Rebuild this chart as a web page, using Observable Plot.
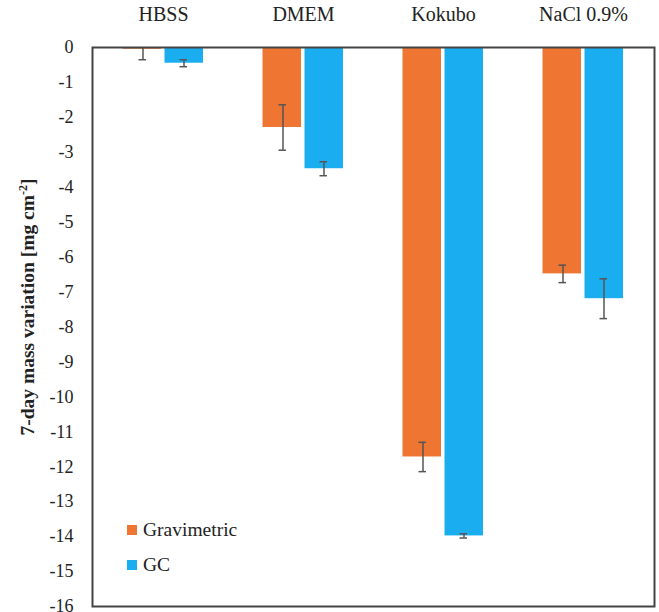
<!DOCTYPE html>
<html>
<head>
<meta charset="utf-8">
<script src="https://cdn.jsdelivr.net/npm/d3@7"></script>
<script src="https://cdn.jsdelivr.net/npm/@observablehq/plot@0.6"></script>
<style>
  html, body { margin: 0; padding: 0; background: #fff; }
  #chart { position: relative; width: 659px; height: 612px; }
  .legend { position: absolute; left: 127px; top: 512px; font-size: 19.5px; color: #222; }
  .legend div { display: flex; align-items: center; height: 35px; }
  .legend span.sw { display: inline-block; width: 10px; height: 10px; margin-right: 6px; }
</style>
</head>
<body>
<div id="chart"></div>
<script>
// Solutions and measurement methods
const solutions = ["HBSS", "DMEM", "Kokubo", "NaCl 0.9%"];
const methods = ["Gravimetric", "GC"];
const colors = ["#EE7632", "#1AAEF0"];

// 7-day mass variation [mg cm^-2] and standard deviations
const gravimetric = [-0.05, -2.29, -11.72, -6.48];
const gravimetricErr = [0.3, 0.65, 0.42, 0.25];
const gc = [-0.45, -3.47, -13.98, -7.19];
const gcErr = [0.1, 0.2, 0.06, 0.57];

const yTicks = d3.range(0, -17, -1);

const rows = solutions.flatMap((s, i) => [
  {solution: s, method: "Gravimetric", value: gravimetric[i], err: gravimetricErr[i]},
  {solution: s, method: "GC", value: gc[i], err: gcErr[i]}
]);
const grav = rows.filter(d => d.method === "Gravimetric");
const gcRows = rows.filter(d => d.method === "GC");

const errColor = "#555";
const serif = "'Liberation Serif', 'Times New Roman', serif";

// Vertical error bar with short caps, offset to sit on its bar
function errorMarks(data, dx) {
  return [
    Plot.ruleX(data, {x: "solution", y1: d => d.value - d.err, y2: d => d.value + d.err, dx, stroke: errColor, strokeWidth: 1.5, clip: true}),
    Plot.tickY(data, {x: "solution", y: d => d.value - d.err, dx, stroke: errColor, strokeWidth: 1.5, insetLeft: 66, insetRight: 66.5, clip: true}),
    Plot.tickY(data, {x: "solution", y: d => d.value + d.err, dx, stroke: errColor, strokeWidth: 1.5, insetLeft: 66, insetRight: 66.5, clip: true})
  ];
}

const plot = Plot.plot({
  width: 659,
  height: 612,
  marginLeft: 92,
  marginRight: 5,
  marginTop: 47,
  marginBottom: 6,
  style: {fontFamily: serif, fontSize: "18px", color: "#222", background: "white"},
  x: {domain: solutions, padding: 0, axis: "top", label: null, tickSize: 0, tickPadding: 27},
  y: {domain: [-16, 0], ticks: yTicks, tickSize: 0, tickPadding: 19, tickFormat: d => String(d), label: null},
  marks: [
    Plot.barY(grav, {x: "solution", y: "value", fill: colors[0], insetLeft: 29.5, insetRight: 72}),
    Plot.barY(gcRows, {x: "solution", y: "value", fill: colors[1], insetLeft: 71.5, insetRight: 30}),
    ...errorMarks(grav, -20.5),
    ...errorMarks(gcRows, 20.5),
    Plot.frame({stroke: "#444", strokeWidth: 2})
  ]
});

const svg = d3.select(plot);
// Category labels along the top are a bit larger than the value ticks
svg.selectAll("[aria-label='x-axis tick label'] text").attr("font-size", "20px");

svg.append("text")
  .attr("transform", "translate(27,307) rotate(-90)")
  .attr("text-anchor", "middle")
  .attr("dy", "0.35em")
  .attr("font-weight", "bold")
  .attr("font-size", "19.5px")
  .attr("fill", "#222")
  .text("7-day mass variation [mg cm")
  .append("tspan").attr("baseline-shift", "super").attr("font-size", "12px").text("-2")
  .select(function() { return this.parentNode; })
  .append("tspan").text("]");

// Serif face on every text element
svg.selectAll("text").style("font-family", serif);

const chart = document.getElementById("chart");
chart.appendChild(plot);

const legend = document.createElement("div");
legend.className = "legend";
legend.style.fontFamily = serif;
methods.forEach((m, i) => {
  const row = document.createElement("div");
  row.innerHTML = `<span class="sw" style="background:${colors[i]}"></span>${m}`;
  legend.appendChild(row);
});
chart.appendChild(legend);
</script>
</body>
</html>
